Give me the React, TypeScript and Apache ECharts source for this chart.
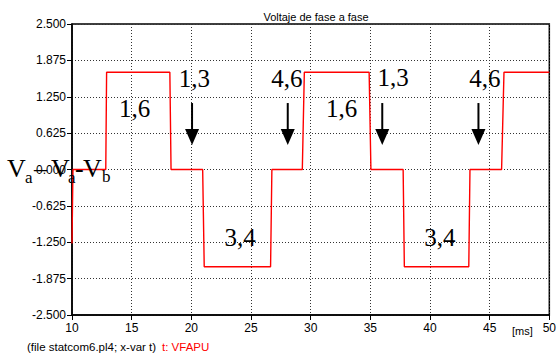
import React, { useEffect, useRef } from "react";
import * as echarts from "echarts";

// time axis [ms] and phase-to-phase voltage (step waveform)
const times = [
  10.0, 10.08, 12.83, 12.9, 18.2, 18.3, 20.95, 21.08, 26.64, 26.75,
  29.3, 29.47, 34.9, 35.05, 37.75, 37.85, 43.25, 43.35, 46.0, 46.2, 50.0,
];
const values = [
  -1.27, 0, 0, 1.67, 1.67, 0, 0, -1.67, -1.67, 0,
  0, 1.67, 1.67, 0, 0, -1.67, -1.67, 0, 0, 1.67, 1.67,
];

const yTicks = [-2.5, -1.875, -1.25, -0.625, 0, 0.625, 1.25, 1.875, 2.5];

// annotation labels (centre, in data coordinates)
const noteTexts = ["1,6", "1,3", "4,6", "1,6", "1,3", "4,6", "3,4", "3,4"];
const noteT = [15.25, 20.25, 28.0, 32.6, 36.9, 44.6, 24.08, 40.83];
const noteV = [1.056, 1.571, 1.571, 1.056, 1.588, 1.571, -1.16, -1.16];

// arrows (x position in ms, from/to values)
const arrowT = [20.06, 28.08, 36.0, 44.06];
const arrowFrom = 1.142;
const arrowTo = 0.42;

export default function App() {
  const ref = useRef<HTMLDivElement>(null);
  useEffect(() => {
    document.body.style.margin = "0";
    if (!ref.current) return;
    const chart = echarts.init(ref.current, null, { renderer: "svg" });
    const data = times.map((t, i) => [t, values[i]]);
    const axisFont = { fontFamily: "Liberation Sans, Arial, sans-serif", fontSize: 12, color: "#000" };
    chart.setOption({
      animation: false,
      backgroundColor: "#fff",
      title: {
        text: "Voltaje de fase a fase",
        left: 311,
        top: 6,
        textAlign: "center",
        textStyle: { fontFamily: "Liberation Sans, Arial, sans-serif", fontSize: 11, fontWeight: "normal", color: "#000" },
      },
      grid: { left: 72, right: 7, top: 24, bottom: 41, show: true, borderColor: "#000", borderWidth: 1.5, backgroundColor: "transparent" },
      xAxis: {
        type: "value",
        min: 10,
        max: 50,
        interval: 5,
        axisLine: { show: true, onZero: false, lineStyle: { color: "#000", width: 1.5 } },
        axisTick: { show: true, length: 5, lineStyle: { color: "#000" } },
        axisLabel: { ...axisFont, margin: 7 },
        splitLine: { show: true, lineStyle: { color: "#333", type: [1, 2], width: 1 } },
      },
      yAxis: {
        type: "value",
        min: yTicks[0],
        max: yTicks[yTicks.length - 1],
        interval: 0.625,
        axisLine: { show: true, onZero: false, lineStyle: { color: "#000", width: 1.5 } },
        axisTick: { show: true, length: 5, lineStyle: { color: "#000" } },
        axisLabel: { ...axisFont, margin: 6, formatter: (v: number) => v.toFixed(3) },
        splitLine: { show: true, lineStyle: { color: "#333", type: [1, 2], width: 1 } },
      },
      series: [
        {
          type: "line",
          data,
          showSymbol: false,
          symbol: "none",
          lineStyle: { color: "#ff0000", width: 1.4 },
          z: 3,
        },
      ],
    });

    const serif = "Liberation Serif, Times New Roman, serif";
    const graphics: any[] = [];
    noteTexts.forEach((s, i) => {
      const [px, py] = chart.convertToPixel({ gridIndex: 0 }, [noteT[i], noteV[i]]) as number[];
      graphics.push({
        type: "text",
        x: px,
        y: py,
        z: 10,
        style: { text: s, fontFamily: serif, fontSize: 25, fill: "#000", align: "center", verticalAlign: "middle" },
      });
    });
    arrowT.forEach((t) => {
      const [x, y0] = chart.convertToPixel({ gridIndex: 0 }, [t, arrowFrom]) as number[];
      const [, y1] = chart.convertToPixel({ gridIndex: 0 }, [t, arrowTo]) as number[];
      const headH = 16;
      const headW = 7;
      graphics.push({
        type: "line",
        z: 10,
        shape: { x1: x, y1: y0, x2: x, y2: y1 - headH + 1 },
        style: { stroke: "#000", lineWidth: 2 },
      });
      graphics.push({
        type: "polygon",
        z: 10,
        shape: { points: [[x - headW, y1 - headH], [x + headW, y1 - headH], [x, y1]] },
        style: { fill: "#000" },
      });
    });
    // y-axis name pieces: V_a – V_a - V_b (y = vertical middle of each piece)
    const big = { fontFamily: serif, fontSize: 26, fill: "#000" };
    const small = { fontFamily: serif, fontSize: 17, fill: "#000" };
    const yName: [string, number, number, any][] = [
      ["V", 7, 168, big],
      ["a", 25, 177, small],
      ["–", 34, 168, big],
      ["V", 51, 168, big],
      ["a", 68, 177, small],
      ["-", 75, 168, big],
      ["V", 83, 168, big],
      ["b", 102, 176, small],
    ];
    yName.forEach(([s, x, y, st]) => {
      graphics.push({
        type: "text",
        x,
        y,
        z: 10,
        style: { ...st, text: s, align: "left", verticalAlign: "middle" },
      });
    });
    graphics.push({
      type: "text",
      x: 512,
      y: 331,
      style: { text: "[ms]", fontFamily: "Liberation Sans, Arial, sans-serif", fontSize: 11, fill: "#000", align: "left", verticalAlign: "middle" },
    });
    graphics.push({
      type: "text",
      x: 27,
      y: 347,
      style: { text: "(file statcom6.pl4; x-var t)", fontFamily: "Liberation Sans, Arial, sans-serif", fontSize: 11.5, fill: "#000", align: "left", verticalAlign: "middle" },
    });
    graphics.push({
      type: "text",
      x: 162,
      y: 347,
      style: { text: "t: VFAPU", fontFamily: "Liberation Sans, Arial, sans-serif", fontSize: 11.5, fill: "#ff0000", align: "left", verticalAlign: "middle" },
    });
    chart.setOption({ graphic: graphics });
    return () => chart.dispose();
  }, []);
  return <div ref={ref} style={{ width: 559, height: 356 }} />;
}
